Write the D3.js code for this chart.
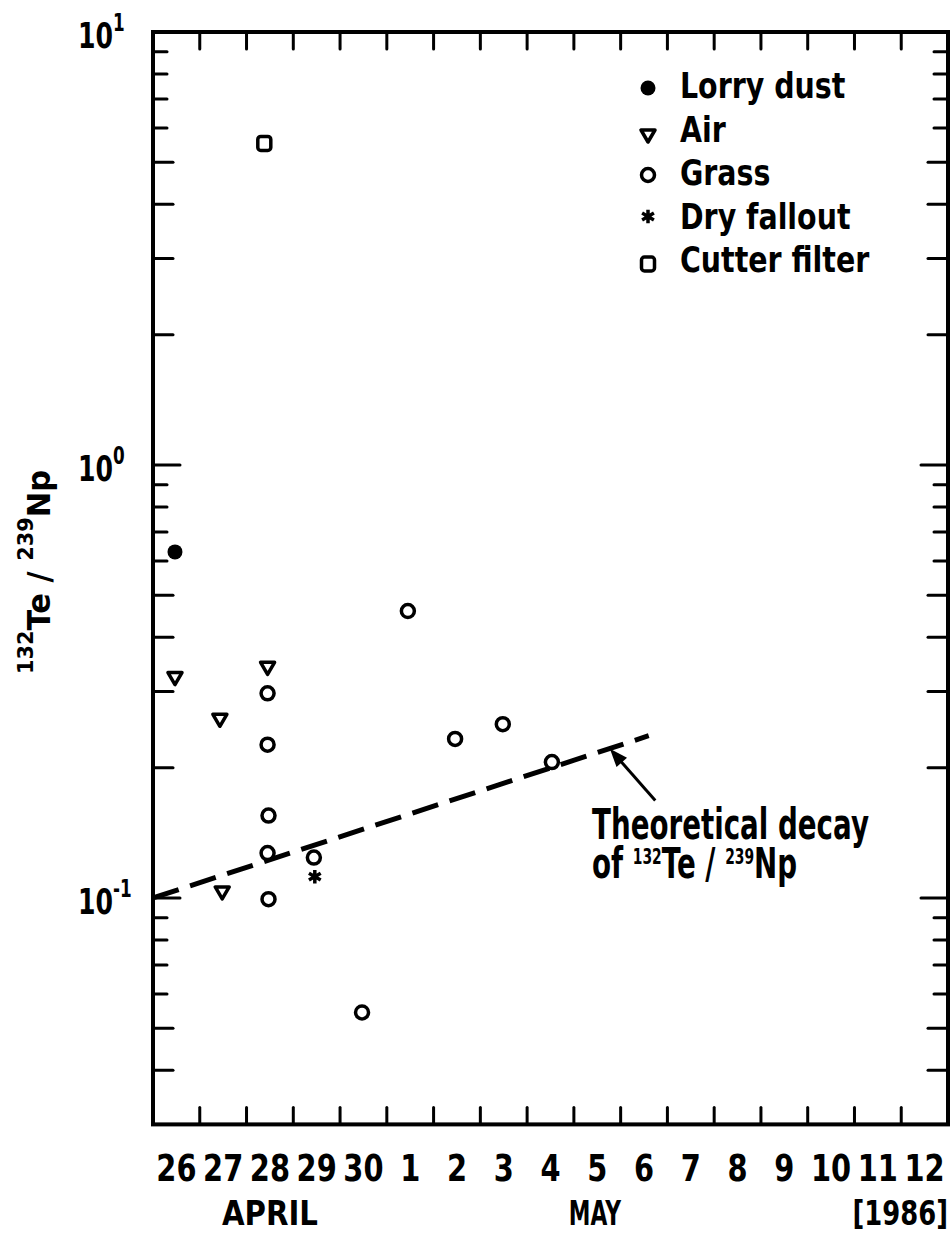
<!DOCTYPE html>
<html>
<head>
<meta charset="utf-8">
<script src="https://cdn.jsdelivr.net/npm/d3@7"></script>
<style>
  body { margin: 0; background: #fff; }
  svg { display: block; }
  text { font-family: "DejaVu Sans", sans-serif; font-weight: bold; fill: #000; }
</style>
</head>
<body>
<div id="viz"></div>
<script>
// x values are days counted from 26 April 1986, 00:00
let dayLabels = ["26", "27", "28", "29", "30", "1", "2", "3", "4", "5", "6", "7", "8", "9", "10", "11", "12"]
let lorryDust = [[0.47, 0.63]]
let air = [[0.47, 0.322], [1.43, 0.258], [2.45, 0.34], [1.48, 0.103]]
let grass = [[2.45, 0.297], [2.45, 0.226], [2.47, 0.155], [2.45, 0.127], [2.47, 0.0994],
             [3.44, 0.124], [4.47, 0.0544], [5.45, 0.46], [6.46, 0.233], [7.48, 0.252], [8.53, 0.206]]
let dryFallout = [[3.46, 0.112]]
let cutterFilter = [[2.38, 5.53]]
let decayLine = [[0, 0.1], [10.6, 0.237]]
let legendNames = ["Lorry dust", "Air", "Grass", "Dry fallout", "Cutter filter"]
let decadeLabels = [["10", "1"], ["10", "0"], ["10", "-1"]]

let svgWidth = 952
let svgHeight = 1235

let margin = {
    left: 153,
    right: 4,
    top: 32,
    bottom: 110.6
}

const svg = d3.select('#viz')
    .append('svg')
    .attr('width', svgWidth)
    .attr('height', svgHeight)

let xScale = d3.scaleLinear()
    .domain([0, dayLabels.length])
    .range([margin.left, svgWidth - margin.right])

let yScale = d3.scaleLog()
    .domain([0.03, 10])
    .range([svgHeight - margin.bottom, margin.top])

let x0 = xScale.range()[0], x1 = xScale.range()[1]
let yB = yScale.range()[0], yT = yScale.range()[1]

// text helper, the lettering is tall and narrow so squeeze it a bit
function label(x, y, sx, size, anchor) {
    return svg.append('text')
        .attr('transform', `translate(${x},${y}) scale(${sx},1)`)
        .attr('font-size', size)
        .attr('text-anchor', anchor || 'start')
}
// parts: [text, isSuperscript]
function rich(t, parts, supSize, raise) {
    let prev = false
    parts.forEach(function(p) {
        let dy = 0
        if (p[1] && !prev) dy = -raise
        if (!p[1] && prev) dy = raise
        let ts = t.append('tspan').attr('dy', dy).text(p[0])
        if (p[1]) ts.attr('font-size', supSize)
        prev = p[1]
    })
}

// ticks
let ticks = svg.append('g')
    .attr('stroke', 'black')
    .attr('stroke-width', 3)
    .attr('stroke-linecap', 'round')

let dayBounds = d3.range(1, dayLabels.length)
ticks.selectAll('.tb')
    .data(dayBounds)
    .join('line')
    .attr('x1', d => xScale(d)).attr('x2', d => xScale(d))
    .attr('y1', yB).attr('y2', yB - 17)
ticks.selectAll('.tt')
    .data(dayBounds)
    .join('line')
    .attr('x1', d => xScale(d)).attr('x2', d => xScale(d))
    .attr('y1', yT).attr('y2', yT + 17)

function tickLen(v) {
    let m = Math.round(v / Math.pow(10, Math.floor(Math.log10(v) + 1e-9)))
    if (m == 1) return 27
    if (m <= 5) return 20
    return 14
}
let yTicks = yScale.ticks()
ticks.selectAll('.tl')
    .data(yTicks)
    .join('line')
    .attr('x1', x0).attr('x2', d => x0 + tickLen(d))
    .attr('y1', d => yScale(d)).attr('y2', d => yScale(d))
ticks.selectAll('.tr')
    .data(yTicks)
    .join('line')
    .attr('x1', x1).attr('x2', d => x1 - tickLen(d))
    .attr('y1', d => yScale(d)).attr('y2', d => yScale(d))

// frame
svg.append('rect')
    .attr('x', x0).attr('y', yT)
    .attr('width', x1 - x0).attr('height', yB - yT)
    .attr('fill', 'none')
    .attr('stroke', 'black')
    .attr('stroke-width', 4)

// y tick labels
let decades = [10, 1, 0.1]
decades.forEach(function(v, i) {
    let t = label(78, yScale(v) + 16, 0.7, 36)
    rich(t, [[decadeLabels[i][0], false], [decadeLabels[i][1], true]], 24, 17)
})

// x tick labels
dayLabels.forEach(function(d, i) {
    label(xScale(i + 0.5), yB + 57, 0.78, 37, 'middle').text(d)
})
label(xScale(2.5), yB + 101, 0.86, 34, 'middle').text('APRIL')
label(xScale(9.45), yB + 101, 0.64, 34, 'middle').text('MAY')
label(x1, yB + 101, 0.76, 34, 'end').text('[1986]')

// y axis title
let yt = svg.append('text')
    .attr('transform', 'translate(50,572) rotate(-90) scale(0.95,1)')
    .attr('font-size', 32)
    .attr('text-anchor', 'middle')
rich(yt, [['132', true], ['Te / ', false], ['239', true], ['Np', false]], 22, 17)

// theoretical decay line
let line = d3.line()
    .x(d => xScale(d[0]))
    .y(d => yScale(d[1]))
svg.append('path')
    .datum(decayLine)
    .attr('d', line)
    .attr('fill', 'none')
    .attr('stroke', 'black')
    .attr('stroke-width', 5)
    .attr('stroke-dasharray', '27,12')

// markers
function marker(g, type, px, py) {
    if (type == 'dot') {
        g.append('circle').attr('cx', px).attr('cy', py).attr('r', 7.5)
            .attr('fill', 'black')
    } else if (type == 'circle') {
        g.append('circle').attr('cx', px).attr('cy', py).attr('r', 6.5)
            .attr('fill', 'white').attr('stroke', 'black').attr('stroke-width', 3.5)
    } else if (type == 'tri') {
        g.append('path')
            .attr('d', `M${px - 7},${py - 5.5}L${px + 7},${py - 5.5}L${px},${py + 6.5}Z`)
            .attr('fill', 'white').attr('stroke', 'black').attr('stroke-width', 3.5)
            .attr('stroke-linejoin', 'round')
    } else if (type == 'star') {
        g.append('path')
            .attr('transform', `translate(${px},${py})`)
            .attr('d', d3.symbol(d3.symbolAsterisk, 130)())
            .attr('fill', 'none').attr('stroke', 'black').attr('stroke-width', 3.5)
    } else if (type == 'square') {
        g.append('rect').attr('x', px - 6.5).attr('y', py - 7).attr('width', 13).attr('height', 14)
            .attr('rx', 3)
            .attr('fill', 'white').attr('stroke', 'black').attr('stroke-width', 3.5)
    }
}

let series = [
    { name: legendNames[0], type: 'dot', values: lorryDust, dy: -10 },
    { name: legendNames[1], type: 'tri', values: air, dy: -6 },
    { name: legendNames[2], type: 'circle', values: grass, dy: -10 },
    { name: legendNames[3], type: 'star', values: dryFallout, dy: -12 },
    { name: legendNames[4], type: 'square', values: cutterFilter, dy: -8 }
]

let pts = svg.append('g')
series.forEach(function(s) {
    s.values.forEach(d => marker(pts, s.type, xScale(d[0]), yScale(d[1])))
})

// legend
let leg = svg.append('g')
series.forEach(function(s, i) {
    let base = 98 + i * 43.5
    marker(leg, s.type, 648, base + s.dy)
    label(680, base, 0.79, 36).text(s.name)
})

// annotation arrow
let tail = [10.74, 0.168], tip = [9.77, 0.221]
let ax1 = xScale(tail[0]), ay1 = yScale(tail[1])
let ax2 = xScale(tip[0]), ay2 = yScale(tip[1])
let ang = Math.atan2(ay2 - ay1, ax2 - ax1)
svg.append('line')
    .attr('x1', ax1).attr('y1', ay1)
    .attr('x2', ax2 - 12 * Math.cos(ang)).attr('y2', ay2 - 12 * Math.sin(ang))
    .attr('stroke', 'black').attr('stroke-width', 3)
let hl = 18, hw = 7
svg.append('path')
    .attr('d', `M${ax2},${ay2}` +
        `L${ax2 - hl * Math.cos(ang) + hw * Math.sin(ang)},${ay2 - hl * Math.sin(ang) - hw * Math.cos(ang)}` +
        `L${ax2 - hl * Math.cos(ang) - hw * Math.sin(ang)},${ay2 - hl * Math.sin(ang) + hw * Math.cos(ang)}Z`)
    .attr('fill', 'black')

label(592, 839, 0.66, 42).text('Theoretical decay')
let l2 = label(592, 878, 0.66, 42)
rich(l2, [['of ', false], ['132', true], ['Te / ', false], ['239', true], ['Np', false]], 21, 14)
</script>
</body>
</html>
